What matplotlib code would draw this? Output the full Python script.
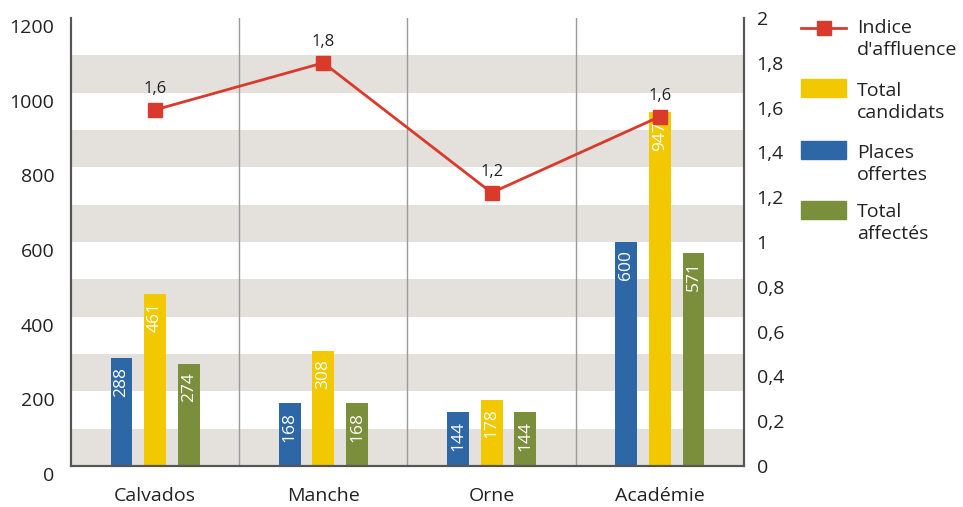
import numpy as np
import matplotlib
matplotlib.use("Agg")
import matplotlib.pyplot as plt
from matplotlib.patches import Rectangle
from matplotlib.lines import Line2D
import matplotlib.transforms as mtransforms

plt.rcParams['font.family'] = ['Open Sans', 'DejaVu Sans']

categories = ["Calvados", "Manche", "Orne", "Académie"]
places = [288, 168, 144, 600]
candidats = [461, 308, 178, 947]
affectes = [274, 168, 144, 571]
indice = [1.59, 1.80, 1.22, 1.56]

blue = "#2E67A5"
yellow = "#F2C800"
green = "#7B8E3C"
red = "#D93A2B"
band = "#E4E1DC"
dark = "#222222"

fig = plt.figure(figsize=(9.63, 5.07), dpi=100)
ax = fig.add_axes([0.0737, 0.0809, 0.6989, 0.8836])
x = np.arange(len(categories))

# alternating grey bands
for y0 in range(0, 1200, 200):
    ax.axhspan(y0, y0 + 100, color=band, lw=0, zorder=0)
for xd in [0.5, 1.5, 2.5]:
    ax.axvline(xd, color="#9a9a9a", lw=1, zorder=1)

w = 0.13
sets = [(places, blue, -0.2), (candidats, yellow, 0.0), (affectes, green, 0.2)]
for vals, col, off in sets:
    ax.bar(x + off, vals, width=w, color=col, zorder=2)
    for xi, v in zip(x + off, vals):
        ax.annotate(str(v), (xi, v), xytext=(0, -6), textcoords="offset points",
                    rotation=90, ha="center", va="top", color="white",
                    fontsize=12.5, zorder=3)

ax.set_xlim(-0.5, 3.5)
ax.set_ylim(0, 1200)
ax.set_yticks(range(0, 1201, 200))
ax.set_xticks(x)
ax.set_xticklabels(categories)
ax.tick_params(axis="both", length=0, labelsize=14, colors=dark)
ax.tick_params(axis="x", pad=15)
ax.tick_params(axis="y", pad=12)
shift = mtransforms.ScaledTranslation(0, -8 / 100, fig.dpi_scale_trans)
for lab in ax.get_yticklabels():
    lab.set_transform(lab.get_transform() + shift)
ax.spines["top"].set_visible(False)
for s in ["left", "bottom", "right"]:
    ax.spines[s].set_color("#555555")
    ax.spines[s].set_linewidth(1.5)

ax2 = ax.twinx()
ax2.set_ylim(0, 2)
rticks = np.arange(0, 2.01, 0.2)
ax2.set_yticks(rticks)
ax2.set_yticklabels([("%.1f" % t).replace(".", ",").replace(",0", "") for t in rticks])
ax2.tick_params(axis="y", length=0, labelsize=14, colors=dark, pad=9)
ax2.spines["top"].set_visible(False)
for s in ["left", "bottom", "right"]:
    ax2.spines[s].set_color("#555555")
    ax2.spines[s].set_linewidth(1.5)
ax2.plot(x, indice, color=red, lw=2, marker="s", markersize=10, zorder=4)
for xi, v in zip(x, indice):
    ax2.annotate(("%.1f" % v).replace(".", ","), (xi, v), xytext=(0, 9),
                 textcoords="offset points", ha="center", va="bottom",
                 fontsize=12, color=dark)

# legend drawn by hand, handle aligned with first text line
W, H = 963, 507
def fx(px):
    return px / W
def fy(py):
    return 1 - py / H

fig.add_artist(Line2D([fx(801), fx(846)], [fy(28), fy(28)], color=red, lw=2,
                      transform=fig.transFigure))
fig.add_artist(Line2D([fx(823.5)], [fy(28)], color=red, marker="s", markersize=10,
                      transform=fig.transFigure))
entries = [("Indice\nd'affluence", 28), ("Total\ncandidats", 91),
           ("Places\noffertes", 153), ("Total\naffectés", 212)]
for lab, cy in entries:
    fig.text(fx(857), fy(cy - 9), lab, fontsize=14, color=dark, va="top",
             ha="left", linespacing=1.28)
for col, cy in [(yellow, 88), (blue, 150), (green, 210)]:
    fig.add_artist(Rectangle((fx(801), fy(cy + 9)), fx(45), 18 / H, color=col,
                             transform=fig.transFigure))

fig.savefig("out.png", dpi=100)
